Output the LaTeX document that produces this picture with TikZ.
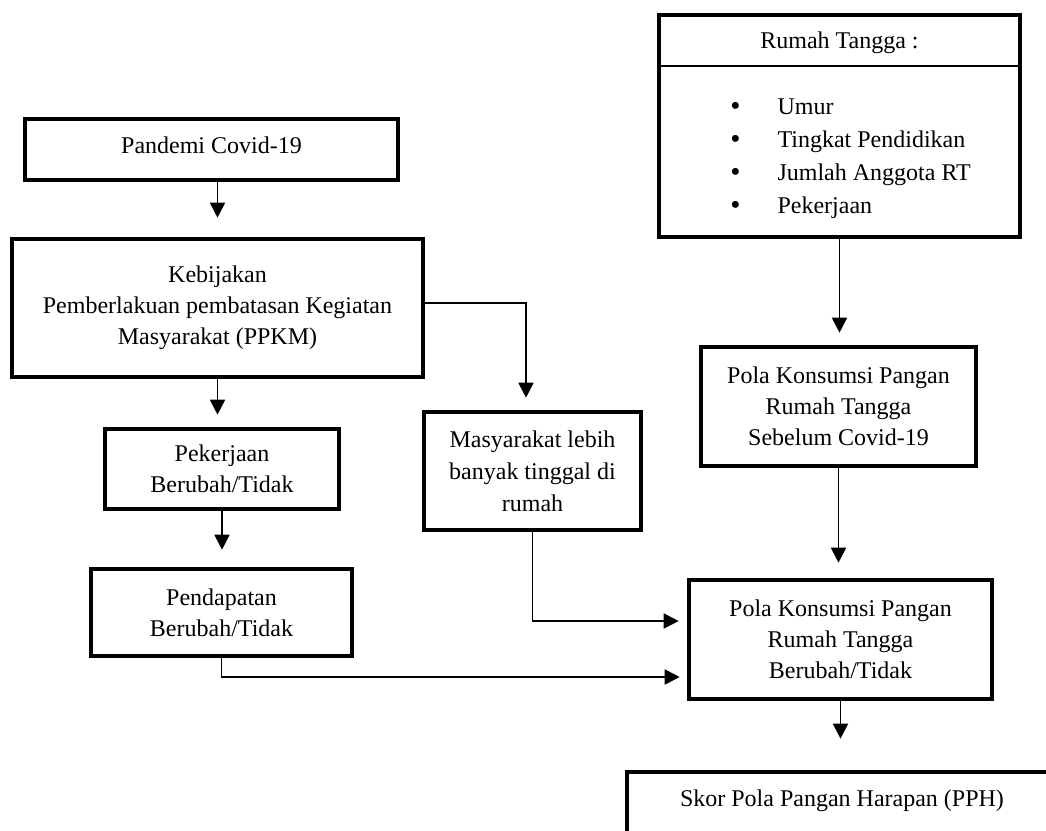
\documentclass[tikz,border=0pt]{standalone}
\usepackage{fontspec}
\setmainfont{Liberation Serif}
\usetikzlibrary{arrows.meta,positioning,calc}

\begin{document}
\begin{tikzpicture}[x=0.5pt, y=-0.5pt, >={Triangle[length=7.5pt,width=7.5pt]},
    font=\fontsize{12}{15.5}\selectfont,
    box/.style={draw, line width=2.3pt, align=center, inner sep=0pt},
    flow/.style={->, line width=0.9pt}]
  \newcommand{\bigdot}{{\fontsize{14.5}{12}\selectfont\raisebox{-0.5pt}{\textbullet}}}
  \useasboundingbox (0,0) rectangle (1046,831);
  % left column
  \node[box, minimum width=186.5pt, minimum height=30.5pt, text height=8.5pt, text depth=5pt] (pandemi) at (211.5,149.5) {Pandemi Covid-19};
  \node[box, minimum width=205.5pt, minimum height=69pt] (kebijakan) at (217.5,308)
       {Kebijakan\\ Pemberlakuan pembatasan Kegiatan\\ Masyarakat (PPKM)};
  \node[box, minimum width=117pt, minimum height=40pt] (pekerjaan) at (222,469) {Pekerjaan\\ Berubah/Tidak};
  \node[box, minimum width=130.5pt, minimum height=43.5pt] (pendapatan) at (221.5,612.5) {Pendapatan\\ Berubah/Tidak};
  \node[box, minimum width=108.5pt, minimum height=59pt, font=\fontsize{12}{16}\selectfont] (masyarakat) at (532.5,471)
       {Masyarakat lebih\\ banyak tinggal di\\ rumah};
  % right column
  \node[box, minimum width=180.5pt, minimum height=111pt] (rt) at (839.5,126) {};
  \coordinate (rtsep) at (839.5,66);
  \draw[line width=0.9pt] (rt.west |- rtsep) -- (rt.east |- rtsep);
  \node (rthead) at (839.5,43) {Rumah Tangga :};
  \node[anchor=west, inner sep=0pt, font=\fontsize{12}{16.5}\selectfont] (rtlist) at (730,157)
       {\begin{tabular}{@{}c@{\hspace{18.5pt}}l@{}}
         \bigdot & Umur\\
         \bigdot & Tingkat Pendidikan\\
         \bigdot & Jumlah Anggota RT\\
         \bigdot & Pekerjaan
        \end{tabular}};
  \node[box, minimum width=137.5pt, minimum height=59.5pt] (sebelum) at (838.5,406.5)
       {Pola Konsumsi Pangan\\ Rumah Tangga\\ Sebelum Covid-19};
  \node[box, minimum width=151.5pt, minimum height=59.5pt] (berubah) at (840.5,639.5)
       {Pola Konsumsi Pangan\\ Rumah Tangga\\ Berubah/Tidak};
  \node[box, minimum width=215pt, text height=17pt, text depth=25pt] (skor) at (842,814)
       {Skor Pola Pangan Harapan (PPH)};
  % arrows
  \draw[flow, shorten >=9.5pt] (pandemi.south -| kebijakan.north) -- (kebijakan.north);
  \draw[flow, shorten >=6pt] (kebijakan.south) -- (kebijakan.south |- pekerjaan.north);
  \draw[flow, shorten >=8.5pt] (pekerjaan.south) -- (pekerjaan.south |- pendapatan.north);
  \draw[flow, shorten >=6pt] ([yshift=2.5pt]kebijakan.east) -| ([xshift=-3.25pt]masyarakat.north);
  \draw[flow, shorten >=4pt] (masyarakat.south) |- ([yshift=9.25pt]berubah.west);
  \draw[flow, shorten >=3.5pt] (pendapatan.south) |- ([yshift=-18.75pt]berubah.west);
  \draw[flow, shorten >=6pt] (rt.south) -- (rt.south |- sebelum.north);
  \draw[flow, shorten >=7.5pt] (sebelum.south) -- (sebelum.south |- berubah.north);
  \draw[flow, shorten >=15.5pt] (berubah.south) -- (berubah.south |- skor.north);
\end{tikzpicture}
\end{document}
